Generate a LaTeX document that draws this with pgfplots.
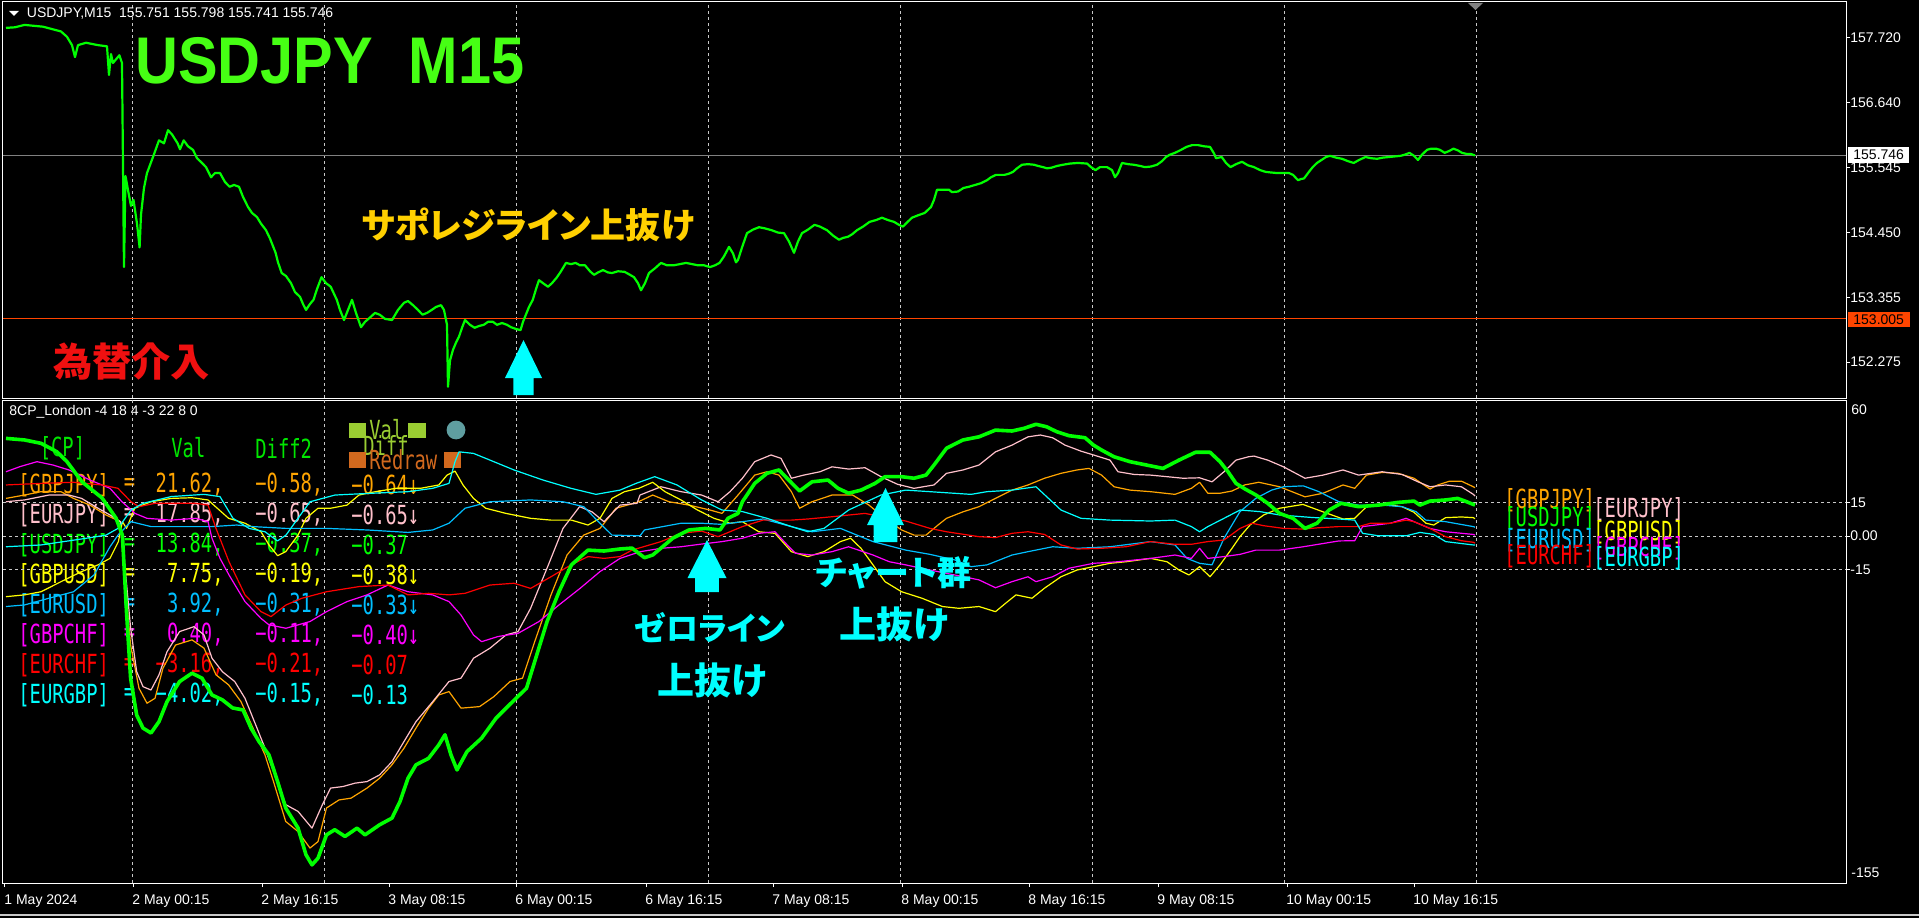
\documentclass[border=0pt]{standalone}
\usepackage{pgfplots}
\pgfplotsset{compat=1.18}
\usepackage{graphicx}
\usepackage{fontspec}
\setmainfont{Liberation Sans}
\newfontfamily\jp[RawFeature={+palt}]{Noto Sans CJK JP}
\newfontfamily\mono{DejaVu Sans Mono}
\definecolor{cGBPJPY}{RGB}{255,165,0}
\definecolor{cEURJPY}{RGB}{255,192,203}
\definecolor{cUSDJPY}{RGB}{0,255,0}
\definecolor{cGBPUSD}{RGB}{255,255,0}
\definecolor{cEURUSD}{RGB}{0,191,255}
\definecolor{cGBPCHF}{RGB}{255,0,255}
\definecolor{cEURCHF}{RGB}{255,0,0}
\definecolor{cEURGBP}{RGB}{0,255,255}
\definecolor{bars}{RGB}{0,255,0}
\definecolor{tgreen}{RGB}{70,255,20}
\definecolor{jgold}{RGB}{255,208,0}
\definecolor{jred}{RGB}{240,16,16}
\definecolor{acyan}{RGB}{0,255,255}
\definecolor{yg}{RGB}{154,205,50}
\definecolor{choc}{RGB}{210,105,30}
\definecolor{cadet}{RGB}{95,158,160}
\definecolor{gridc}{RGB}{200,200,200}
\definecolor{bidgrey}{RGB}{128,128,128}
\definecolor{ored}{RGB}{255,69,0}
\definecolor{hdrgreen}{RGB}{0,230,0}
\newcommand{\mt}[1]{\scalebox{1}[1.4]{\mono\fontsize{9.4pt}{10pt}\selectfont #1}}
\newcommand{\sm}{\fontsize{7pt}{8pt}\selectfont}
\newcommand{\trow}[6]{%
 \node[anchor=west,inner sep=0,text=#2] at (9pt,#1) {\mt{[#3]}};
 \node[inner sep=0,text=#2] at (64.8pt,#1) {\mt{=}};
 \node[anchor=east,inner sep=0,text=#2] at (112pt,#1) {\mt{#4,}};
 \node[anchor=west,inner sep=0,text=#2] at (127.5pt,#1) {\mt{#5,}};
 \node[anchor=west,inner sep=0,text=#2] at (175.5pt,#1) {\mt{#6}};}
\begin{document}
\begin{tikzpicture}
\fill[black] (0,0) rectangle (959.5pt,459pt);
\draw[gridc,line width=0.8pt] (0,1.5pt) -- (959.5pt,1.5pt);

% ---------------- top panel: price ----------------
\begin{axis}[
  at={(1.5pt,260pt)}, anchor=south west,
  scale only axis, width=921.5pt, height=198pt,
  xmin=3, xmax=1846, ymin=151.67, ymax=158.325,
  axis line style={white, line width=0.5pt},
  xtick={132,324,516,708,900,1092,1284,1476}, xticklabels={},
  xmajorgrids, major x grid style={gridc, line width=0.5pt, dash pattern=on 1.5pt off 1.5pt},
  xtick style={draw=none},
  ytick={152.275,153.355,154.45,155.545,156.64,157.72},
  yticklabels={152.275,153.355,154.450,155.545,156.640,157.720},
  ytick pos=right, yticklabel pos=right, tick align=outside,
  ytick style={white, line width=0.5pt}, major tick length=2pt,
  yticklabel style={anchor=west, inner sep=0pt, xshift=0pt, text=white, font=\sm},
]
\addplot[bidgrey, line width=0.6pt] coordinates {(3,155.746) (1846,155.746)};
\addplot[ored, line width=0.6pt] coordinates {(3,153.005) (1846,153.005)};
\addplot[bars, line width=1.1pt, line join=round] coordinates {
(6,157.89)(15,157.90)(24.5,157.94)(43,157.91)(61,157.83)(67,157.74)(72,157.60)(75,157.40)(78,157.60)(86,157.64)(98,157.60)(107,157.58)(109,157.10)(111,157.45)(113,157.30)(119.4,157.43)(122,157.30)
(124,153.87)(125.5,155.40)(128.6,155.11)(131,154.90)(133.5,155.00)(137,154.60)(139.6,154.20)(141,154.75)(144,155.20)(147,155.45)(153,155.72)(159,156.00)(164,155.95)(168,156.17)(172,156.10)(177.6,155.95)(180,155.85)(183.7,156.00)(188,155.90)(193,155.84)(197,155.70)(202,155.62)(206,155.55)(211,155.38)(215,155.45)(220,155.45)(225,155.30)(229.6,155.22)(234,155.25)(239,155.22)(243,155.05)(248,154.88)(252,154.78)(257,154.71)(261,154.60)(266,154.49)(270,154.35)(275.6,154.11)(278,153.95)(281.7,153.77)(286,153.72)(291,153.60)(295,153.45)(300,153.37)(303,153.25)(306,153.15)(310,153.25)(313.5,153.32)(317,153.50)(321.5,153.70)(326,153.60)(330.7,153.54)(336.8,153.32)(340,153.15)(344,152.98)(348,153.15)(352,153.32)(356,153.10)(361,152.86)(365,152.95)(370.5,153.03)(375,153.10)(379.7,153.07)(385,153.00)(392,152.98)(398,153.15)(404,153.27)(408,153.30)(413,153.23)(418,153.15)(422.5,153.07)(427,153.10)(431.7,153.15)(436,153.20)(441,153.23)(444,153.15)(447,152.90)(448,151.86)(450,152.30)(453,152.48)(456,152.60)(459,152.70)(462,152.85)(465,152.98)(470,152.90)(474.6,152.85)(479,152.88)(483.8,152.90)(488,152.95)(493,152.95)(497,152.90)(502,152.93)(507,152.90)(511,152.86)(516,152.83)(520.5,152.81)(523,152.95)(526.6,153.10)(529,153.20)(532.8,153.32)(536,153.50)(539,153.65)(543,153.60)(548,153.54)(552,153.60)(557,153.70)(561,153.80)(566,153.94)(571,153.92)(575.6,153.94)(580,153.90)(585,153.90)(590,153.80)(594,153.74)(598,153.78)(603,153.82)(608,153.78)(612,153.77)(618,153.80)(624.6,153.79)(630,153.74)(634,153.70)(638,153.60)(641,153.48)(645,153.60)(649,153.77)(655,153.85)(661,153.94)(667,153.90)(673.6,153.90)(680,153.92)(686,153.94)(692,153.92)(698,153.90)(704,153.90)(710,153.87)(715,153.90)(719.5,153.94)(724,154.05)(729,154.21)(733,154.10)(736,153.95)(738,153.99)(742,154.20)(747,154.44)(753,154.50)(759,154.54)(765,154.52)(771.6,154.49)(778,154.45)(784,154.44)(789,154.30)(794,154.11)(798,154.30)(802,154.44)(808,154.50)(814.5,154.58)(820,154.55)(827,154.49)(833,154.40)(839,154.33)(843,154.36)(848,154.38)(852,154.42)(857,154.49)(863,154.55)(869.6,154.63)(876,154.66)(882,154.70)(888,154.66)(894,154.63)(899,154.58)(903,154.55)(907,154.62)(912,154.70)(918,154.74)(924.7,154.78)(931,154.88)(934,155.00)(937,155.17)(943,155.17)(949,155.17)(952,155.13)(958,155.14)(963.5,155.20)(969,155.22)(975,155.25)(981,155.28)(987,155.33)(991,155.38)(996,155.42)(1004.5,155.42)(1009,155.44)(1013,155.47)(1017,155.53)(1022,155.59)(1028,155.60)(1034,155.59)(1038,155.57)(1043,155.55)(1047,155.53)(1051.5,155.54)(1057,155.57)(1063,155.59)(1070,155.61)(1078,155.62)(1087,155.61)(1091,155.55)(1095.5,155.50)(1100,155.55)(1107,155.55)(1112,155.50)(1115,155.38)(1118,155.45)(1122,155.62)(1128,155.60)(1133.7,155.59)(1140,155.57)(1145,155.55)(1151,155.56)(1157,155.59)(1162,155.65)(1166,155.72)(1170,155.76)(1175,155.79)(1181,155.84)(1186.5,155.89)(1192,155.92)(1198,155.92)(1204,155.90)(1210,155.89)(1214,155.78)(1216,155.70)(1221.7,155.72)(1226,155.62)(1230.5,155.55)(1236,155.60)(1242,155.64)(1248,155.58)(1254,155.55)(1260,155.50)(1265.7,155.47)(1271,155.46)(1277.4,155.45)(1283,155.45)(1289,155.45)(1293,155.42)(1298,155.33)(1301,155.35)(1304,155.36)(1308,155.45)(1312.7,155.55)(1317,155.62)(1321.5,155.67)(1326,155.72)(1330,155.74)(1336,155.71)(1342,155.69)(1348,155.65)(1353.7,155.62)(1359,155.67)(1365.5,155.72)(1371,155.70)(1377,155.69)(1383,155.71)(1389,155.72)(1395,155.73)(1400.7,155.74)(1405,155.76)(1409.5,155.79)(1414,155.74)(1418,155.67)(1422,155.76)(1427,155.84)(1431,155.86)(1436,155.86)(1440,155.84)(1444.7,155.79)(1449,155.82)(1453.5,155.86)(1458,155.83)(1462,155.79)(1467,155.77)(1471,155.77)(1475,155.746)};
\end{axis}

% texts of top panel
\fill[white] (4.5pt,453.5pt) -- (9.5pt,453.5pt) -- (7pt,451pt) -- cycle;
\node[anchor=west,inner sep=0,text=white,font=\sm] at (13.25pt,452pt) {USDJPY,M15\ \ 155.751 155.798 155.741 155.746};
\node[anchor=west,inner sep=0,text=tgreen] at (67.5pt,428.5pt) {\scalebox{0.9}[1]{\fontsize{33pt}{36pt}\selectfont\bfseries USDJPY\hspace{0.6em}M15}};
\node[text=jgold,inner sep=0] at (264pt,346.5pt) {\jp\bfseries\fontsize{17.5pt}{19pt}\selectfont サポレジライン上抜け};
\node[text=jred,inner sep=0] at (65.75pt,278.25pt) {\jp\bfseries\fontsize{19.6pt}{21pt}\selectfont 為替介入};
\fill[acyan] (256.65pt,261.5pt) -- (256.65pt,270pt) -- (252.5pt,270pt) -- (261.75pt,289pt) -- (271pt,270pt) -- (266.85pt,270pt) -- (266.85pt,261.5pt) -- cycle;
\fill[bidgrey] (734pt,457.5pt) -- (741.5pt,457.5pt) -- (737.75pt,454pt) -- cycle;
\fill[white] (924pt,377.5pt) rectangle (954.5pt,385.5pt);
\node[anchor=west,inner sep=0,text=black,font=\sm] at (926.5pt,381.5pt) {155.746};
\fill[ored] (924pt,295.5pt) rectangle (955pt,303pt);
\node[anchor=west,inner sep=0,text=black,font=\sm] at (926.5pt,299.25pt) {153.005};

% table texts of the indicator (drawn below the lines)
\node[anchor=west,inner sep=0,text=white,font=\sm] at (4.5pt,253pt) {8CP\_London -4 18 4 -3 22 8 0};
\node[inner sep=0,text=hdrgreen] at (31.25pt,235pt) {\mt{[CP]}};
\node[anchor=west,inner sep=0,text=hdrgreen] at (85.5pt,235pt) {\mt{Val}};
\node[anchor=west,inner sep=0,text=hdrgreen] at (127.5pt,235pt) {\mt{Diff2}};
\fill[yg] (174.5pt,240pt) rectangle (183pt,247.5pt);
\fill[yg] (204pt,240pt) rectangle (213pt,247.5pt);
\node[anchor=west,inner sep=0,text=yg] at (184.5pt,244pt) {\mt{Val}};
\node[anchor=west,inner sep=0,text=yg] at (181.5pt,236pt) {\mt{Diff}};
\fill[cadet] (228pt,244pt) circle (4.7pt);
\fill[choc] (174.5pt,225pt) rectangle (183pt,233pt);
\fill[choc] (222pt,225pt) rectangle (230.5pt,233pt);
\node[anchor=west,inner sep=0,text=choc] at (184.5pt,229pt) {\mt{Redraw}};
\trow{216.5pt}{cGBPJPY}{GBPJPY}{21.62}{−0.58}{−0.64↓}
\trow{201.5pt}{cEURJPY}{EURJPY}{17.85}{−0.65}{−0.65↓}
\trow{186.5pt}{cUSDJPY}{USDJPY}{13.84}{−0.37}{−0.37}
\trow{171.5pt}{cGBPUSD}{GBPUSD}{7.75}{−0.19}{−0.38↓}
\trow{156.5pt}{cEURUSD}{EURUSD}{3.92}{−0.31}{−0.33↓}
\trow{141.5pt}{cGBPCHF}{GBPCHF}{0.40}{−0.11}{−0.40↓}
\trow{126.5pt}{cEURCHF}{EURCHF}{−3.16}{−0.21}{−0.07}
\trow{111.5pt}{cEURGBP}{EURGBP}{−4.02}{−0.15}{−0.13}

% ---------------- bottom panel: indicator ----------------
\begin{axis}[
  at={(1.5pt,17.5pt)}, anchor=south west,
  scale only axis, width=921.5pt, height=241.5pt,
  xmin=3, xmax=1846, ymin=-155, ymax=60.75,
  axis line style={white, line width=0.5pt},
  xtick={5,133,262,389,516,646,773,902,1029,1158,1287,1414},
  xticklabels={1 May 2024,2 May 00:15,2 May 16:15,3 May 08:15,6 May 00:15,6 May 16:15,7 May 08:15,8 May 00:15,8 May 16:15,9 May 08:15,10 May 00:15,10 May 16:15},
  xtick pos=bottom, tick align=outside, major tick length=2pt,
  tick style={white, line width=0.5pt},
  xticklabel style={anchor=north west, inner sep=0pt, yshift=-3.5pt, xshift=-0.5pt, text=white, font=\sm},
  extra x ticks={132,324,516,708,900,1092,1284,1476}, extra x tick labels={},
  extra x tick style={xmajorgrids=true, major tick length=0pt,
     major x grid style={gridc, line width=0.5pt, dash pattern=on 1.5pt off 1.5pt}},
  ytick={-15,0,15}, yticklabels={-15,0.00,15},
  ytick pos=right, yticklabel pos=right,
  ymajorgrids, major y grid style={gridc, line width=0.5pt, dash pattern=on 1.5pt off 1.5pt},
  yticklabel style={anchor=west, inner sep=0pt, xshift=0pt, text=white, font=\sm},
]
\addplot[cGBPJPY, line width=0.6pt, line join=round] coordinates {
(6,16.8)(24.5,18.3)(41,19.8)(61,19.8)(73.5,16.8)(90,13.8)(106,9.4)(120.4,6.4)(124.5,-18.9)(130.6,-48.7)(139,-68.0)(147,-74.7)(155,-72.5)(163,-59.0)(175.5,-48.7)(192,-46.4)(204,-50.1)(216,-62.0)(228.6,-66.5)(241,-74.0)(253,-85.8)(265,-97.8)(273.5,-109.7)(285.7,-127.5)(298,-132.0)(310,-139.4)(318,-136.5)(326.5,-121.5)(339,-117.9)(351,-117.1)(367,-112.6)(379.6,-108.2)(392,-102.2)(404,-94.8)(416,-85.8)(428.6,-76.9)(438.8,-71.0)(449,-69.5)(461,-76.9)(479.6,-76.2)(494,-71.7)(510,-65.0)(522.5,-63.5)(534.7,-47.2)(551,-26.3)(567,-8.5)(583.7,0.4)(600,3.4)(616,12.4)(637,15.0)
(652.7,18.3)(669,15.3)(689,13.8)(710,11.6)(722,10.1)(738,18.3)(754.7,27.2)(767,28.7)(779,27.2)(791.4,19.8)(799.6,12.4)(812,15.3)(832,18.3)(852.6,18.3)(869,13.8)(885,7.9)(901.6,2.7)(914,0.4)(926,0.4)(938,4.9)(946.5,7.9)(963,10.8)(979,13.1)(995.5,16.8)(1012,20.5)(1028,22.8)(1044.5,25.8)(1061,28.0)(1077,29.5)(1089,30.2)(1101.6,27.2)(1114,22.0)(1130,20.5)(1150.6,19.8)(1175,18.6)(1191.4,21.3)(1199.6,24.0)(1207.8,19.1)(1220,19.1)(1232,20.1)(1244.5,22.8)(1258.8,24.0)
(1279.5,22.0)(1305,17.5)(1323,19.1)(1343,22.8)(1354.7,21.3)(1366.5,27.2)(1382,28.4)(1398,28.0)(1414,25.8)(1430,21.0)(1437.7,22.8)(1449.6,24.5)(1461.4,24.5)(1473.3,22.0)(1475,21.62)};
\addplot[cEURJPY, line width=0.6pt, line join=round] coordinates {
(6,15.3)(24.5,16.1)(49,18.3)(69,18.3)(81.6,16.8)(98,12.4)(110,9.4)(120.4,6.4)(124.5,-11.5)(130.6,-41.0)(136.7,-60.6)(143,-67.3)(151,-68.8)(159,-62.0)(167,-51.7)(179.6,-42.7)(194,-40.5)(204,-44.2)(212,-54.6)(222.4,-60.6)(234.7,-65.0)(245,-72.5)(257,-85.8)(265,-94.8)(273.5,-105.2)(285.7,-120.0)(298,-123.0)(312,-130.5)(322.4,-120.0)(330.6,-112.6)(343,-111.9)(355,-110.4)(367,-109.7)(379.6,-106.7)(392,-100.8)(404,-91.8)(416,-82.9)(432.7,-74.0)(449,-65.0)(461,-63.5)(473.5,-54.6)(490,-50.1)(506,-44.2)(518,-42.7)(530.6,-32.3)(547,-14.4)(563,3.4)(579.6,13.1)(592,10.8)(604,6.4)(620,13.8)(637,14.6)
(640,18.3)(661,22.0)(681,19.8)(701.6,18.3)(718,15.3)(730,19.8)(742.4,25.8)(754.7,33.2)(771,36.2)(781,34.7)(791.4,25.8)(803.7,27.2)(820,28.7)(832,30.9)(848.6,29.9)(865,30.5)(881,26.5)(897.5,23.1)(914,21.3)(934,22.8)(946.5,28.0)(963,29.5)(979,31.7)(995.5,37.6)(1012,40.6)(1028,44.3)(1040.4,45.1)(1052.6,43.9)(1065,40.6)(1081,37.9)(1093.5,36.2)(1110,33.9)(1118,28.7)(1134,27.5)(1150.6,27.2)(1167,26.5)(1183,25.8)(1199.6,26.0)(1212,24.2)(1224,28.7)(1236,33.9)(1248.6,35.4)
(1254,35.7)(1267.7,33.9)(1283.5,30.9)(1305,25.8)(1323,27.2)(1343,29.5)(1358.6,27.2)(1382,28.7)(1402,27.5)(1418,24.2)(1430,22.0)(1445.6,22.8)(1461.4,22.0)(1473.3,18.6)(1475,17.85)};
\addplot[cGBPUSD, line width=0.6pt, line join=round] coordinates {
(6,-27.1)(24.5,-26.3)(41,-24.9)(61,-20.4)(81.6,-15.9)(98,-12.9)(110,-10.0)(118.4,-2.5)(122.4,6.4)(126.5,3.4)(134.7,12.4)(151,15.3)(171.4,16.8)(192,17.1)(208,16.1)(228.6,7.9)(245,5.7)(261,1.9)(269,-4.0)(277.6,-8.8)(285.7,-7.0)(298,0.4)(306,7.9)(318,12.4)(330.6,12.4)(347,13.8)(359,18.3)(375.5,19.8)(396,21.3)(420.4,21.3)(438.8,22.8)(447,27.2)(455,29.0)(463,22.8)(473.5,16.8)(485.7,12.4)(506,10.1)(530.6,7.9)(551,7.1)(571.4,7.1)(588,4.9)(600,7.9)(612,16.8)(624.5,19.8)(638.8,21.3)
(652.7,24.0)(665,19.8)(681,16.1)(697.5,11.6)(714,7.9)(730,5.7)(742.4,6.4)(758.8,1.9)(775,1.2)(791.4,-7.0)(807.8,-9.2)(824,-7.0)(840.4,-2.5)(850.6,-1.0)(861,-5.5)(873,-12.9)(885,-20.4)(901.6,-24.9)(922,-27.8)(942.4,-31.5)(958.8,-32.3)(979,-31.5)(995.5,-33.8)(1005.7,-30.0)(1016,-26.3)(1032,-27.8)(1044.5,-23.3)(1061,-18.2)(1077,-15.2)(1093.5,-13.7)(1110,-12.2)(1126,-11.5)(1150.6,-10.0)(1167,-11.5)(1179,-15.2)(1189,-17.4)(1199.6,-13.7)(1210,-18.2)(1220,-12.9)(1232,-5.5)(1240,-0.3)(1250,4.9)
(1263.7,9.4)(1279.5,12.4)(1303,14.1)(1323,10.8)(1343,7.6)(1354.7,7.9)(1366.5,13.1)(1386,14.1)(1402,13.1)(1414,10.6)(1426,5.7)(1433.7,4.9)(1445.6,8.2)(1461.4,8.5)(1473.3,8.2)(1475,7.75)};
\addplot[cEURUSD, line width=0.6pt, line join=round] coordinates {
(6,-31.5)(24.5,-30.8)(49,-27.8)(73.5,-24.9)(94,-17.4)(110,-4.8)(118,0.4)(131,6.4)(151,4.2)(184,4.2)(212,4.2)(236.7,4.9)(253,4.2)(286,3.4)(326.5,3.4)(367,2.7)(408,1.6)(432.7,2.7)(449,5.7)(465,12.4)(490,15.3)(530.6,16.1)(563,15.3)(583.7,13.1)(600,5.7)(612,0.4)(640,0.1)
(644.5,2.7)(681,5.7)(701.6,5.7)(722,5.2)(742.4,6.4)(763,7.6)(791.4,4.2)(812,1.9)(840.4,3.4)(873,-2.5)(905.7,-6.3)(930,-8.2)(954.7,-10.7)(971,-13.7)(987,-12.9)(1012,-8.5)(1028,-7.0)(1052.6,-4.8)(1077,-5.5)(1110,-4.8)(1150.6,-2.5)(1175,-4.0)(1187,-10.0)(1199.6,-12.2)(1212,-12.9)(1224,-1.0)(1240,10.9)(1255.8,16.8)
(1271.6,20.5)(1283.5,22.0)(1303.3,22.4)(1319,19.8)(1338.9,15.3)(1358.6,13.8)(1382.3,13.8)(1402.1,13.1)(1416,10.9)(1425.8,7.1)(1445.6,6.4)(1473.3,4.2)(1475,3.92)};
\addplot[cGBPCHF, line width=0.6pt, line join=round] coordinates {
(6,28.7)(20,31.0)(37,33.2)(53,31.7)(69,29.5)(90,25.0)(110,21.3)(122,15.3)(135,10.1)(147,7.9)(171,7.1)(196,7.9)(208,6.4)(212,-1.0)(220,-10.0)(229,-17.4)(245,-29.3)(261,-36.8)(269,-39.7)(286,-41.2)(310,-38.2)(326.5,-33.8)(347,-29.3)(367,-26.3)(388,-21.9)(408,-24.9)(432.7,-26.3)(449,-29.3)(461,-35.3)(473.5,-44.2)(481.6,-47.2)(498,-44.9)(518,-43.5)(539,-38.2)(559,-30.8)(580,-23.4)(600,-15.9)(620,-10.0)
(640.4,-7.0)(661,-5.5)(681,-4.8)(701.6,-3.6)(722,-2.5)(742.4,-1.0)(758.8,1.2)(775,1.9)(787.3,-4.0)(795.5,-7.7)(812,-8.5)(832,-7.0)(848.6,-4.8)(873,-8.5)(889.4,-11.5)(905.7,-12.9)(930,-15.2)(954.7,-17.4)(979,-19.6)(995.5,-23.1)(1012,-20.4)(1028,-18.2)(1036,-20.4)(1052.6,-18.2)(1069,-14.4)(1093.5,-12.2)(1118,-11.5)(1150.6,-10.0)(1175,-8.5)(1191.4,-10.0)(1199.6,-5.5)(1207.8,-10.0)(1224,-9.2)(1240,-8.2)
(1255.8,-6.3)(1279.5,-6.3)(1303.3,-4.8)(1338.9,-2.2)(1354.7,-2.1)(1362.6,4.2)(1390.3,5.7)(1406.1,7.9)(1414,6.4)(1429.8,3.4)(1445.6,1.9)(1473.3,0.7)(1475,0.40)};
\addplot[cEURCHF, line width=0.6pt, line join=round] coordinates {
(6,22.8)(41,23.5)(73.5,24.0)(102,22.8)(118,21.3)(131,15.3)(139,13.1)(155,14.6)(175.5,14.6)(196,14.6)(208,13.8)(216,3.4)(229,-11.5)(245,-26.3)(261,-33.8)(271,-36.0)(286,-30.8)(302,-27.8)(326.5,-24.9)(359,-22.6)(388,-21.9)(408,-26.3)(428.6,-25.6)(449,-26.3)(465,-25.6)(490,-21.9)(514,-21.1)(530.6,-23.4)(551,-18.2)(571,-12.9)(588,-9.2)(604,-10.0)(620,-9.2)
(632,-6.3)(661,-2.5)(681,1.2)(701.6,2.2)(718,-0.3)(742.4,4.2)(763,7.1)(791.4,7.1)(807.8,7.6)(832,8.6)(865,10.1)(889.4,7.9)(905.7,6.7)(930,3.4)(946.5,1.9)(979,-0.3)(995.5,-0.7)(1012,1.2)(1028,1.9)(1044.5,0.7)(1061,-4.0)(1077,-5.8)(1101.6,-5.5)(1126,-4.8)(1150.6,-2.5)(1175,-3.7)(1191.4,-3.7)(1207.8,-2.5)(1224,-1.8)(1240,3.4)
(1251.9,5.7)(1263.7,4.6)(1283.5,3.4)(1303.3,3.1)(1319,3.7)(1338.9,4.2)(1358.6,4.2)(1370.5,5.7)(1390.3,5.7)(1406.1,7.1)(1414,6.4)(1429.8,3.4)(1445.6,-0.3)(1461.4,-2.1)(1473.3,-2.8)(1475,-3.16)};
\addplot[cEURGBP, line width=0.6pt, line join=round] coordinates {
(6,-4.8)(41,-4.0)(82,-1.3)(106,0.4)(118,3.4)(131,11.6)(143,14.6)(171,17.6)(204,18.6)(220,17.6)(233,7.9)(249,3.4)(265,1.9)(277.5,-2.2)(286,0.4)(298,7.9)(310,15.3)(335,18.3)(367,19.0)(408,19.8)(432.7,21.3)(449,23.5)(455,33.2)(459,37.6)(473.5,36.9)(490,33.9)(514,29.5)(543,25.0)(571,21.3)(596,18.6)(620,20.5)
(636,23.5)(654.7,26.5)(677,22.8)(701.6,16.1)(722,11.6)(742.4,10.9)(767,7.9)(791.4,4.2)(807.8,1.9)(824,3.4)(848.6,11.6)(881,18.3)(905.7,20.5)(930,19.8)(971,18.6)(987,19.8)(1012,20.5)(1036,22.0)(1061,11.6)(1081,7.9)(1110,7.1)(1150.6,6.7)(1175,7.1)(1191.4,4.2)(1199.6,1.9)(1207.8,4.2)(1224,7.9)(1240,11.6)(1259.8,10.9)
(1279.5,9.4)(1311.2,8.3)(1338.9,7.6)(1354.7,7.1)(1362.6,1.2)(1378.4,0.1)(1406.1,0.1)(1420,1.6)(1433.7,0.7)(1445.6,-2.5)(1473.3,-4.0)(1475,-4.02)};
\addplot[cUSDJPY, line width=1.8pt, line join=round] coordinates {
(6,43.6)(24.5,42.9)(41,41.4)(57,37.6)(67,33.2)(82,24.2)(102,17.0)(116,8.0)(122.4,0.4)(126.5,-33.8)(130.6,-63.5)(136.7,-80.0)(143,-85.8)(151,-88.0)(159,-82.9)(167,-74.0)(179.6,-65.0)(192,-61.3)(202,-63.5)(212,-71.0)(222.4,-73.2)(232.6,-76.8)(243,-77.7)(251,-85.8)(259,-91.8)(269,-97.8)(277.6,-109.7)(285.7,-121.5)(298,-130.4)(306,-142.4)(312,-146.9)(318,-143.9)(326.5,-133.5)(334.7,-131.2)(345,-134.2)(357,-130.5)(365,-133.5)(379.6,-129.0)(392,-126.0)(400,-118.6)(408,-108.2)(416,-102.2)(428.6,-99.3)(438.8,-93.3)(445,-88.8)(451,-97.8)(457,-104.5)(467,-96.3)(481.6,-90.3)(496,-81.4)(516,-72.5)(526.5,-68.0)(534.7,-56.1)(547,-38.3)(559,-24.9)(571.4,-12.9)(588,-6.3)(604,-6.7)(620,-5.8)
(632,-5.4)(644.5,-9.7)(652.7,-8.5)(661,-5.4)(673,-0.9)(689,2.7)(705.7,3.4)(720,2.7)(728,7.9)(738,10.1)(742.4,15.3)(754.7,23.5)(767,28.0)(779,29.5)(787,25.8)(799.6,20.1)(812,24.2)(828,25.0)(838,21.3)(848.6,19.1)(861,20.5)(875,23.5)(885,26.5)(901.6,26.5)(914,25.8)(926,27.2)(934,31.7)(946.5,39.2)(963,42.9)(979,44.3)(995.5,47.3)(1012,46.9)(1024,48.1)(1036,49.9)(1046.5,48.8)(1056.7,46.6)(1069,44.8)(1085,43.9)(1093.5,40.6)(1101.6,38.4)(1114,35.4)(1130,33.2)(1146.5,31.7)(1163,30.2)(1179,33.9)(1195.5,37.4)(1210,37.4)(1220,33.2)(1228,28.7)(1236,23.5)(1245,21.0)
(1256,18.3)(1267.7,14.6)(1279.5,10.1)(1293,7.9)(1305,3.4)(1317,5.7)(1329,11.6)(1341,14.6)(1358.6,13.1)(1378.4,13.8)(1398,15.0)(1414,15.6)(1420,13.8)(1430,15.6)(1445.6,16.1)(1457.5,16.8)(1465,15.6)(1473.3,14.1)(1475,13.84)};
% labels at the end of the lines
\node[anchor=north west,inner sep=0,text=cGBPJPY,yshift=-0.5pt] at (axis cs:1504,21.62) {\mt{[GBPJPY]}};
\node[anchor=north west,inner sep=0,text=cEURJPY,yshift=-0.5pt] at (axis cs:1593,17.85) {\mt{[EURJPY]}};
\node[anchor=north west,inner sep=0,text=cUSDJPY,yshift=-0.5pt] at (axis cs:1504,13.84) {\mt{[USDJPY]}};
\node[anchor=north west,inner sep=0,text=cGBPUSD,yshift=-0.5pt] at (axis cs:1593,7.75) {\mt{[GBPUSD]}};
\node[anchor=north west,inner sep=0,text=cEURUSD,yshift=-0.5pt] at (axis cs:1504,3.92) {\mt{[EURUSD]}};
\node[anchor=north west,inner sep=0,text=cGBPCHF,yshift=-0.5pt] at (axis cs:1593,0.40) {\mt{[GBPCHF]}};
\node[anchor=north west,inner sep=0,text=cEURCHF,yshift=-0.5pt] at (axis cs:1504,-3.16) {\mt{[EURCHF]}};
\node[anchor=north west,inner sep=0,text=cEURGBP,yshift=-0.5pt] at (axis cs:1593,-4.02) {\mt{[EURGBP]}};
\end{axis}

\node[anchor=west,inner sep=0,text=white,font=\sm] at (925.5pt,254pt) {60};
\node[anchor=west,inner sep=0,text=white,font=\sm] at (925.5pt,22.5pt) {-155};

% annotations in the indicator panel
\fill[acyan] (347.6pt,163pt) -- (347.6pt,170pt) -- (343.75pt,170pt) -- (353.5pt,189pt) -- (363.25pt,170pt) -- (359.4pt,170pt) -- (359.4pt,163pt) -- cycle;
\fill[acyan] (436.85pt,188pt) -- (436.85pt,196.5pt) -- (433.55pt,196.5pt) -- (442.75pt,215pt) -- (451.95pt,196.5pt) -- (448.65pt,196.5pt) -- (448.65pt,188pt) -- cycle;
\node[text=acyan,inner sep=0] at (355pt,145.25pt) {\jp\bfseries\fontsize{16pt}{18pt}\selectfont ゼロライン};
\node[text=acyan,inner sep=0] at (356pt,119pt) {\jp\bfseries\fontsize{18.5pt}{20pt}\selectfont 上抜け};
\node[text=acyan,inner sep=0] at (446.75pt,172.75pt) {\jp\bfseries\fontsize{17pt}{19pt}\selectfont チャート群};
\node[text=acyan,inner sep=0] at (447pt,146.75pt) {\jp\bfseries\fontsize{18.5pt}{20pt}\selectfont 上抜け};

\pgfresetboundingbox
\useasboundingbox (0,0) rectangle (959.5pt,459pt);
\end{tikzpicture}
\end{document}
